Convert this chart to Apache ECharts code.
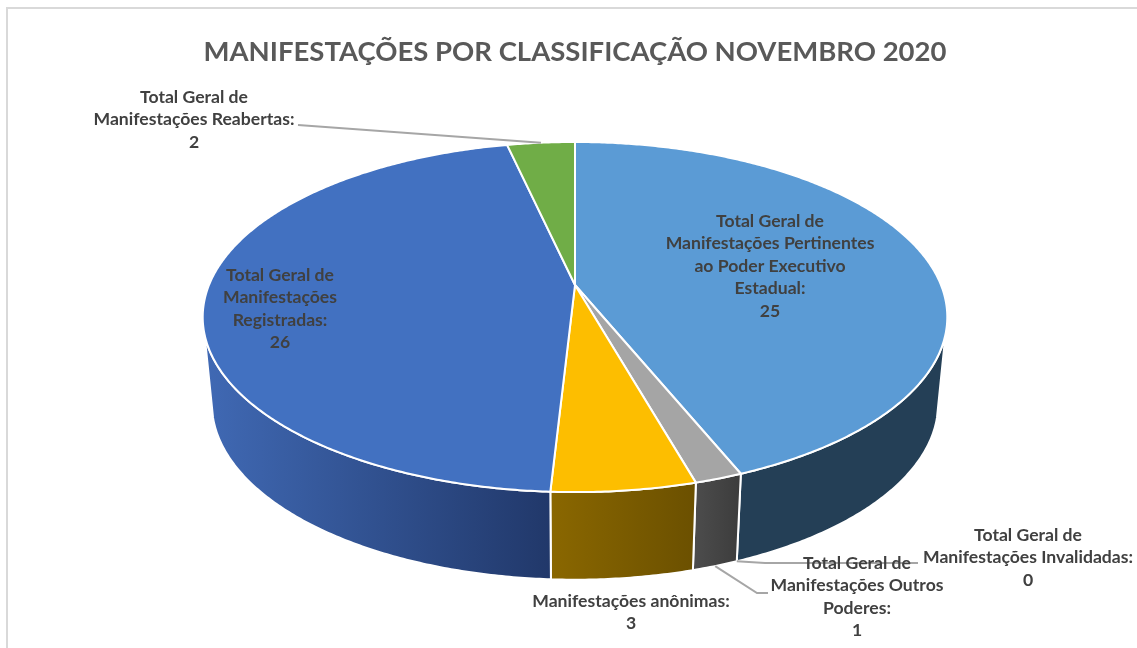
<!DOCTYPE html>
<html><head><meta charset="utf-8">
<style>html,body{margin:0;padding:0;background:#fff}#c{width:1137px;height:648px}</style>
<script src="https://cdn.jsdelivr.net/npm/echarts@6/dist/echarts.min.js"></script>
</head><body><div id="c"></div>
<script>
// ---- data (clockwise from 12 o'clock) ----
const titleText = 'MANIFESTAÇÕES POR CLASSIFICAÇÃO NOVEMBRO 2020';
const categories = [
  'Total Geral de\nManifestações Pertinentes\nao Poder Executivo\nEstadual:',
  'Total Geral de\nManifestações Invalidadas:',
  'Total Geral de\nManifestações Outros\nPoderes:',
  'Manifestações anônimas:',
  'Total Geral de\nManifestações\nRegistradas:',
  'Total Geral de\nManifestações Reabertas:'
];
const values = [25, 0, 1, 3, 26, 2];

// ---- styling ----
const topColors = ['#5b9bd5', '#ed7d31', '#a5a5a5', '#fdbe00', '#4271c1', '#70ad47'];
const wallColors = [
  ['#243f56', '#243f56'], ['#8a4a1c', '#8a4a1c'], ['#4d4d4d', '#3c3c3c'],
  ['#8a6700', '#6b5000'], ['#4069b4', '#21386a'], ['#43682b', '#43682b']
];

// ---- layout: perspective discs and label placement ----
const topDisc = {cx: 575, cy: 285, a: 366, b: 169.2, k: -0.183};
const baseDisc = {cx: 575, cy: 371.5, a: 357, b: 170.1, k: -0.183};
const wallTop = [106, 254], wallBase = [105, 255];
const labelLayout = [
  {x: 770, y: 221, line: null},
  {x: 1028, y: 535, line: {disc: 'base', at: 'start', via: [[765, 563], [918, 563]]}},
  {x: 857, y: 563, line: {disc: 'base', at: 'mid', via: [[757, 593], [768, 593]]}},
  {x: 631, y: 601, line: null},
  {x: 280, y: 275, line: null},
  {x: 194, y: 97, line: {disc: 'top', at: 'mid', via: [[298, 125]]}}
];
const labelLine = 22.6;

const total = values.reduce((s, v) => s + v, 0);
const slices = [];
values.reduce((acc, v, i) => {
  slices[i] = {start: acc / total * 360, end: (acc + v) / total * 360};
  return acc + v;
}, 0);

function project(d, deg) {
  const r = deg * Math.PI / 180, u = Math.sin(r), v = -Math.cos(r), w = 1 + d.k * v;
  return [d.cx + d.a * u / w, d.cy + d.b * v / w];
}
function arc(d, from, to) {
  const pts = [], n = Math.max(2, Math.ceil(Math.abs(to - from) * 2));
  for (let i = 0; i <= n; i++) pts.push(project(d, from + (to - from) * i / n));
  return pts;
}
function renderWall(params) {
  const i = params.dataIndex, s = slices[i];
  const lo = Math.max(s.start, wallTop[0]), hi = Math.min(s.end, wallTop[1]);
  if (values[i] === 0 || hi <= lo) return null;
  // keep the silhouette edges on the visible limit of each disc
  const bLo = lo === wallTop[0] ? wallBase[0] : lo, bHi = hi === wallTop[1] ? wallBase[1] : hi;
  const pts = arc(topDisc, lo, hi).concat(arc(baseDisc, bHi, bLo));
  const xs = pts.map(p => p[0]);
  return {type: 'polygon', shape: {points: pts}, style: {
    fill: {type: 'linear', x: Math.min(...xs), y: 0, x2: Math.max(...xs), y2: 0, global: true,
      colorStops: [{offset: 0, color: wallColors[i][0]}, {offset: 1, color: wallColors[i][1]}]},
    stroke: '#fff', lineWidth: 2, lineJoin: 'round'}};
}
function renderTop(params) {
  const i = params.dataIndex, s = slices[i];
  if (values[i] === 0) return null;
  const pts = [[topDisc.cx, topDisc.cy]].concat(arc(topDisc, s.start, s.end));
  return {type: 'polygon', shape: {points: pts}, style: {fill: topColors[i], stroke: '#fff', lineWidth: 2, lineJoin: 'round'}};
}
function renderLabel(params) {
  const i = params.dataIndex, s = slices[i], l = labelLayout[i], children = [];
  if (l.line) {
    const d = l.line.disc === 'top' ? topDisc : baseDisc;
    const ang = l.line.at === 'mid' ? (s.start + s.end) / 2 : s.start;
    children.push({type: 'polyline', shape: {points: [project(d, ang)].concat(l.line.via)},
      style: {fill: null, stroke: '#a6a6a6', lineWidth: 2}});
  }
  const lines = categories[i].split('\n').concat(String(values[i]));
  lines.forEach((t, n) => children.push({type: 'text', x: l.x, y: l.y + n * labelLine,
    style: {text: t, align: 'center', verticalAlign: 'middle', fill: '#404040',
      font: 'bold 17.6px Lato, "Open Sans", sans-serif'}}));
  return {type: 'group', children};
}

const chart = echarts.init(document.getElementById('c'), null, {renderer: 'canvas', width: 1137, height: 648});
const idx = values.map((v, i) => [i, v]);
chart.setOption({
  animation: false,
  backgroundColor: '#fff',
  title: {text: titleText, left: 570, top: 33, textAlign: 'center',
    textStyle: {color: '#595959', fontFamily: 'Lato', fontWeight: 'bold', fontSize: 27.5}},
  graphic: [{type: 'polyline', silent: true, shape: {points: [[7, 648], [7, 8], [1137, 8]]},
    style: {fill: null, stroke: '#d9d9d9', lineWidth: 2}}],
  series: [
    {type: 'custom', coordinateSystem: 'none', z: 1, data: idx, renderItem: renderWall, silent: true},
    {type: 'custom', coordinateSystem: 'none', z: 2, data: idx, renderItem: renderTop, silent: true},
    {type: 'custom', coordinateSystem: 'none', z: 3, data: idx, renderItem: renderLabel, silent: true}
  ]
});
</script></body></html>
